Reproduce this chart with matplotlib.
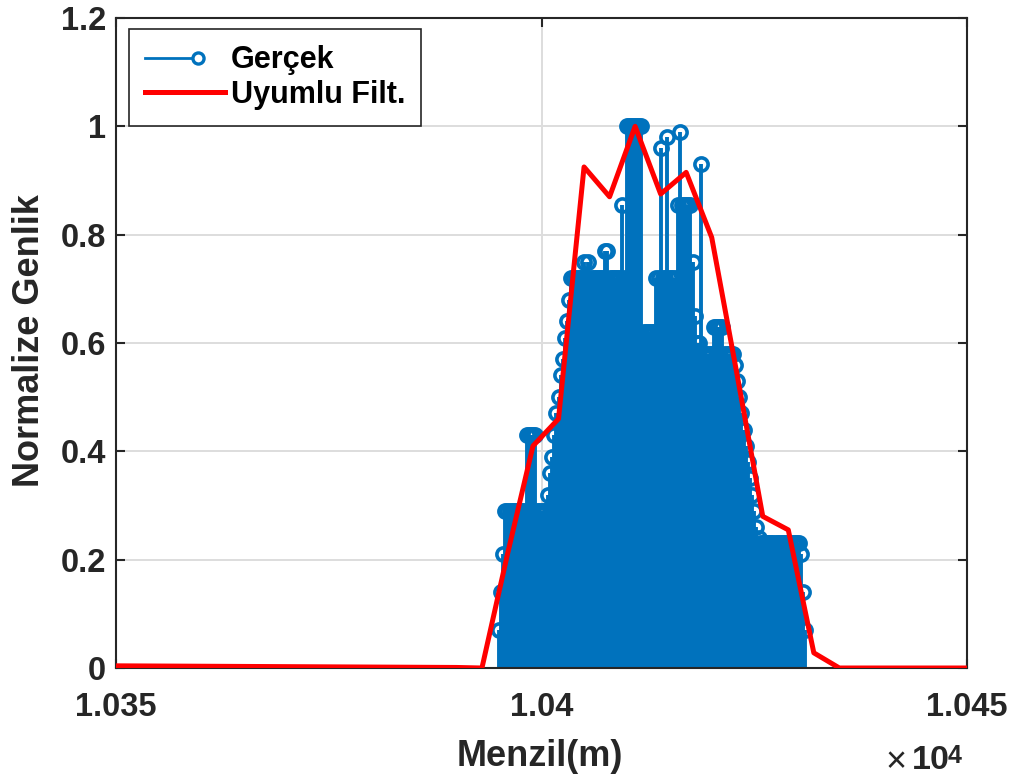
import numpy as np
import matplotlib
matplotlib.use('Agg')
import matplotlib.pyplot as plt
from matplotlib.lines import Line2D
from matplotlib.legend_handler import HandlerBase
from matplotlib.ticker import FixedLocator, FuncFormatter

# Gercek (true) range profile: one sample every 0.25 m starting at 10395 m
STEM_START = 10395.0
STEM_STEP = 0.25
gercek = [
    0.07, 0.14, 0.21,
    0.29, 0.29, 0.29, 0.29, 0.29, 0.29, 0.29, 0.29, 0.29, 0.29,
    0.43, 0.43, 0.43, 0.43, 0.43,
    0.29, 0.29, 0.29, 0.29, 0.29,
    0.32, 0.36, 0.39, 0.43, 0.47, 0.50, 0.54, 0.57, 0.61, 0.64, 0.68, 0.72,
    0.72, 0.72, 0.72, 0.72, 0.72,
    0.75, 0.72, 0.75,
    0.72, 0.72, 0.72, 0.72, 0.72, 0.72, 0.72,
    0.77, 0.77,
    0.72, 0.72, 0.72, 0.72, 0.72, 0.72,
    0.855, 0.72,
    1.0, 1.0, 1.0, 1.0, 1.0, 1.0, 1.0, 1.0,
    0.62, 0.62, 0.62, 0.62, 0.62, 0.62,
    0.72, 0.72, 0.96, 0.72, 0.72, 0.98, 0.72, 0.72, 0.72, 0.72,
    0.855, 0.99, 0.855, 0.855, 0.855, 0.855, 0.855,
    0.75, 0.65, 0.60, 0.60, 0.93,
    0.58, 0.58, 0.58, 0.58, 0.58,
    0.63, 0.63, 0.63, 0.63, 0.63,
    0.58, 0.58, 0.58, 0.58, 0.58,
    0.56, 0.53, 0.50, 0.47, 0.44, 0.41, 0.38, 0.35, 0.32, 0.29, 0.26, 0.24,
    0.23, 0.23, 0.23, 0.23, 0.23, 0.23, 0.23, 0.23, 0.23, 0.23,
    0.23, 0.23, 0.23, 0.23, 0.23, 0.23, 0.23, 0.23, 0.23,
    0.21, 0.14, 0.07,
]

# matched filter output
filt_range = [10350, 10390, 10393, 10396, 10399, 10402, 10405, 10408, 10411,
              10414, 10417, 10420, 10423, 10426, 10429, 10432, 10435, 10450]
filt_amp = [0.004, 0.001, 0.0, 0.21, 0.41, 0.46, 0.925, 0.87, 1.0,
            0.875, 0.915, 0.795, 0.54, 0.28, 0.255, 0.028, 0.0, 0.0]

x_ticks = [10350, 10400, 10450]
y_ticks = [0, 0.2, 0.4, 0.6, 0.8, 1.0, 1.2]

BLUE = '#0072BD'
AXCOL = '#262626'

plt.rcParams['font.family'] = ['Liberation Sans', 'DejaVu Sans']
plt.rcParams['font.weight'] = 'bold'


class StemHandler(HandlerBase):
    """Legend entry like a single stem: line with an open circle at its end."""
    def create_artists(self, legend, orig_handle, xdescent, ydescent,
                       width, height, fontsize, trans):
        y = height / 2 - ydescent
        x0 = -xdescent
        x1 = x0 + width * 0.66
        line = Line2D([x0, x1], [y, y], color=BLUE, lw=2.0)
        mark = Line2D([x1], [y], ls='none', marker='o', mfc='white',
                      mec=BLUE, ms=8, mew=2.4)
        line.set_transform(trans)
        mark.set_transform(trans)
        return [line, mark]


W, H = 1016, 783
fig = plt.figure(figsize=(W / 100, H / 100), dpi=100)
ax = fig.add_axes([116 / W, 1 - 668 / H, (967 - 116) / W, (668 - 18) / H])

x = STEM_START + STEM_STEP * np.arange(len(gercek))
markerline, stemlines, baseline = ax.stem(x, gercek)
stemlines.set_color(BLUE)
stemlines.set_linewidth(2.8)
markerline.set_color(BLUE)
markerline.set_markerfacecolor('none')
markerline.set_markersize(9.5)
markerline.set_markeredgewidth(2.6)
baseline.set_visible(False)

filt_line, = ax.plot(filt_range, filt_amp, color='red', lw=3.6, zorder=4)

ax.set_xlim(10350, 10450)
ax.set_ylim(0, 1.2)
ax.xaxis.set_major_locator(FixedLocator(x_ticks))
ax.xaxis.set_major_formatter(FuncFormatter(lambda v, p: '%g' % (v / 1e4)))
ax.yaxis.set_major_locator(FixedLocator(y_ticks))
ax.yaxis.set_major_formatter(FuncFormatter(lambda v, p: '%g' % v))

ax.grid(True, color='#dddddd', lw=1.4)
ax.set_axisbelow(True)
for s in ax.spines.values():
    s.set_color(AXCOL)
    s.set_linewidth(1.5)
ax.tick_params(direction='in', length=6.5, width=1.5, color=AXCOL,
               labelsize=23.5, labelcolor=AXCOL, top=True, right=True)
ax.tick_params(axis='x', pad=17.5)
ax.tick_params(axis='y', pad=7)

fig.text(540 / W, 1 - 757 / H, 'Menzil(m)', fontsize=26, fontweight='bold',
         color=AXCOL, ha='center', va='center')
fig.text(30 / W, 1 - 341 / H, 'Normalize Genlik', fontsize=26,
         fontweight='bold', color=AXCOL, ha='center', va='center', rotation=90)
# axis multiplier, MATLAB style
fig.text(885 / W, 1 - 772 / H, '\u00d7', fontsize=26, fontweight='normal',
         color=AXCOL, ha='left', va='baseline')
fig.text(912 / W, 1 - 769 / H, '10', fontsize=24.5, fontweight='bold',
         color=AXCOL, ha='left', va='baseline')
fig.text(948 / W, 1 - 763 / H, '4', fontsize=18, fontweight='bold',
         color=AXCOL, ha='left', va='baseline')

stem_proxy = Line2D([], [], color=BLUE)
leg = ax.legend([stem_proxy, filt_line], ['Gerçek', 'Uyumlu Filt.'],
                handler_map={stem_proxy: StemHandler()},
                loc='upper left', bbox_to_anchor=(0.0153, 0.983),
                borderaxespad=0, fancybox=False, framealpha=1,
                edgecolor=AXCOL, handlelength=2.6, handletextpad=0.2,
                labelspacing=0.15, borderpad=0.53,
                prop={'size': 22, 'weight': 'bold'})
leg.get_frame().set_linewidth(1.2)

fig.savefig('out.png', dpi=100)
